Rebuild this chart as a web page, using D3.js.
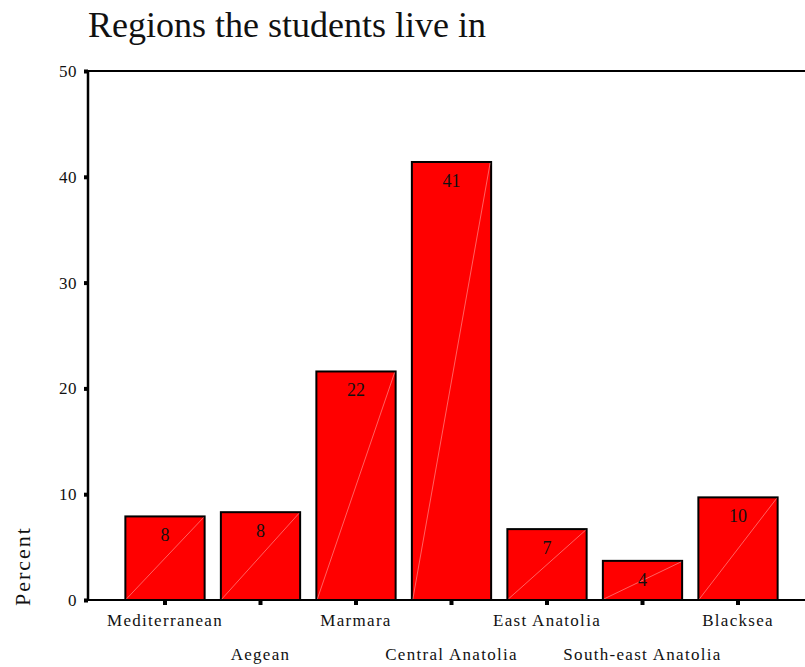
<!DOCTYPE html>
<html>
<head>
<meta charset="utf-8">
<script src="https://cdn.jsdelivr.net/npm/d3@7"></script>
<style>
  html, body { margin: 0; padding: 0; background: #fff; }
  svg { display: block; }
  text { font-family: "Liberation Serif", "DejaVu Serif", serif; fill: #111; }
</style>
</head>
<body>
<svg id="chart" width="805" height="667"></svg>
<script>
// Share of students by home region (percent)
const regions = ["Mediterranean", "Aegean", "Marmara", "Central Anatolia",
                 "East Anatolia", "South-east Anatolia", "Blacksea"];
const percents = [7.9, 8.3, 21.6, 41.4, 6.7, 3.7, 9.7];
const yTicks = [0, 10, 20, 30, 40, 50];

const svg = d3.select("#chart");
const plotLeft = 88, plotRight = 805, plotTop = 71, plotBottom = 600;

const x = d3.scaleBand()
  .domain(regions)
  .range([117.25, 785.75])
  .paddingInner(0.17)
  .paddingOuter(0.085);

const y = d3.scaleLinear().domain([0, 50]).range([plotBottom, plotTop]);

// Title
svg.append("text")
  .attr("x", plotLeft).attr("y", 37)
  .attr("font-size", 36)
  .text("Regions the students live in");

// Y axis title
svg.append("text")
  .attr("transform", `translate(30,566) rotate(-90)`)
  .attr("text-anchor", "middle")
  .attr("font-size", 22)
  .attr("letter-spacing", 2)
  .text("Percent");

// Bars
const bars = svg.append("g");
regions.forEach((r, i) => {
  const x0 = x(r), w = x.bandwidth(), y0 = y(percents[i]), h = y(0) - y(percents[i]);
  bars.append("rect")
    .attr("x", x0).attr("y", y0)
    .attr("width", w).attr("height", h)
    .attr("fill", "#ff0000")
    .attr("stroke", "#000").attr("stroke-width", 2);
  bars.append("line")
    .attr("x1", x0 + 1).attr("y1", y(0) - 1)
    .attr("x2", x0 + w - 1).attr("y2", y0 + 1)
    .attr("stroke", "#ffffff").attr("stroke-opacity", 0.55)
    .attr("stroke-width", 0.7);
  bars.append("text")
    .attr("x", x0 + w / 2).attr("y", y0 + 25)
    .attr("text-anchor", "middle")
    .attr("font-size", 18)
    .text(Math.round(percents[i]));
});

// Frame lines
svg.append("line").attr("x1", plotLeft).attr("x2", plotRight).attr("y1", plotTop).attr("y2", plotTop)
  .attr("stroke", "#000").attr("stroke-width", 2);
svg.append("line").attr("x1", plotLeft).attr("x2", plotRight).attr("y1", plotBottom).attr("y2", plotBottom)
  .attr("stroke", "#000").attr("stroke-width", 2);
svg.append("line").attr("x1", plotLeft).attr("x2", plotLeft).attr("y1", plotTop - 1).attr("y2", plotBottom + 1)
  .attr("stroke", "#000").attr("stroke-width", 2.5);

// Y axis ticks and labels
const yAxis = d3.axisLeft(y).tickValues(yTicks).tickSize(0).tickPadding(11);
const gy = svg.append("g").attr("transform", `translate(${plotLeft},0)`).call(yAxis);
gy.select(".domain").remove();
gy.selectAll("text").attr("font-size", 17).attr("font-family", "Liberation Serif, serif")
  .attr("fill", "#222").attr("letter-spacing", 0.5);
gy.selectAll(".tick").append("rect")
  .attr("x", -4).attr("y", -2).attr("width", 4).attr("height", 4).attr("fill", "#000");

// X axis ticks and staggered labels
const xAxis = d3.axisBottom(x).tickSize(0).tickPadding(0);
const gx = svg.append("g").attr("transform", `translate(0,${plotBottom})`).call(xAxis);
gx.select(".domain").remove();
gx.selectAll(".tick").append("rect")
  .attr("x", -2).attr("y", 0).attr("width", 4).attr("height", 5).attr("fill", "#000");
gx.selectAll(".tick text")
  .attr("font-size", 17).attr("font-family", "Liberation Serif, serif").attr("fill", "#222")
  .attr("letter-spacing", 1.3)
  .attr("dy", null)
  .attr("y", (d, i) => (i % 2 === 0 ? 26 : 60));
</script>
</body>
</html>
